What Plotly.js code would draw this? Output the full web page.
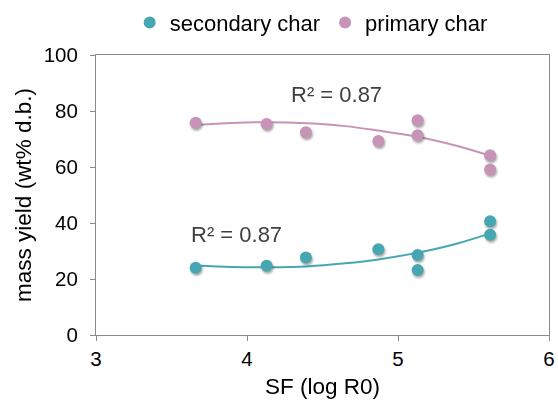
<!DOCTYPE html>
<html>
<head>
<meta charset="utf-8">
<script src="https://cdn.plot.ly/plotly-3.0.1.min.js"></script>
<style>
  html, body { margin: 0; padding: 0; background: #fff; }
  #chart { width: 558px; height: 403px; }
  .scatterlayer .trace .points { filter: drop-shadow(1px 2px 1.2px rgba(0,0,0,0.35)); }
</style>
</head>
<body>
<div id="chart"></div>
<script>
// Measured points
const secX = [3.66, 4.13, 4.39, 4.87, 5.13, 5.13, 5.61, 5.61];
const secY = [24.0, 24.7, 27.7, 30.6, 28.6, 23.2, 40.6, 35.8];
const priX = [3.66, 4.13, 4.39, 4.87, 5.13, 5.13, 5.61, 5.61];
const priY = [75.8, 75.4, 72.4, 69.3, 76.7, 71.3, 64.2, 59.1];

// Trendlines
const trendX = [3.66, 3.9, 4.13, 4.4, 4.65, 4.87, 5.13, 5.4, 5.61];
const secTrend = [24.8, 24.3, 24.2, 24.5, 25.6, 27.0, 29.4, 32.8, 36.3];
const priTrend = [75.0, 75.7, 76.0, 75.6, 74.6, 73.0, 70.8, 67.4, 64.0];

const seriesNames = ['secondary char', 'primary char'];
const r2Labels = ['R² = 0.87', 'R² = 0.87'];
const xTicks = [3, 4, 5, 6];
const yTicks = [0, 20, 40, 60, 80, 100];

const teal = '#46A7B2';
const pink = '#C794B7';
const font = 'Liberation Sans, Arial, Helvetica, sans-serif';

const data = [
  { x: trendX, y: secTrend, mode: 'lines', line: { color: teal, width: 2, shape: 'spline' }, showlegend: false, hoverinfo: 'skip' },
  { x: trendX, y: priTrend, mode: 'lines', line: { color: pink, width: 2, shape: 'spline' }, showlegend: false, hoverinfo: 'skip' },
  { x: secX, y: secY, name: seriesNames[0], mode: 'markers', marker: { color: teal, size: 12 } },
  { x: priX, y: priY, name: seriesNames[1], mode: 'markers', marker: { color: pink, size: 12 } }
];

const axisCommon = {
  showgrid: false, zeroline: false, showline: true, linecolor: '#8a8a8a', linewidth: 1,
  mirror: true, ticks: 'outside', ticklen: 5, tickcolor: '#8a8a8a',
  tickfont: { family: font, size: 20.5, color: '#000' }
};

const layout = {
  width: 558, height: 403,
  margin: { l: 96, r: 9, t: 55, b: 68, autoexpand: false },
  paper_bgcolor: '#fff', plot_bgcolor: '#fff',
  font: { family: font, color: '#000' },
  xaxis: Object.assign({}, axisCommon, {
    range: [3, 6], tickvals: xTicks, ticktext: xTicks.map(String),
    title: { text: 'SF (log R0)', font: { family: font, size: 22.5, color: '#000' }, standoff: 9 }
  }),
  yaxis: Object.assign({}, axisCommon, {
    range: [0, 100], tickvals: yTicks, ticktext: yTicks.map(String), ticklabelstandoff: 8,
    title: { text: 'mass yield (wt% d.b.)', font: { family: font, size: 22.5, color: '#000' }, standoff: 5 }
  }),
  showlegend: true,
  legend: {
    orientation: 'h', x: 0.475, xanchor: 'center', y: 1.04, yanchor: 'bottom',
    font: { family: font, size: 22, color: '#000' }, itemwidth: 30, traceorder: 'normal'
  },
  annotations: [
    { x: 4.59, y: 86, xref: 'x', yref: 'y', text: r2Labels[1], showarrow: false,
      font: { family: font, size: 22, color: '#404040' } },
    { x: 3.93, y: 36, xref: 'x', yref: 'y', text: r2Labels[0], showarrow: false,
      font: { family: font, size: 22, color: '#404040' } }
  ]
};

Plotly.newPlot('chart', data, layout, { displayModeBar: false, staticPlot: true });
</script>
</body>
</html>
